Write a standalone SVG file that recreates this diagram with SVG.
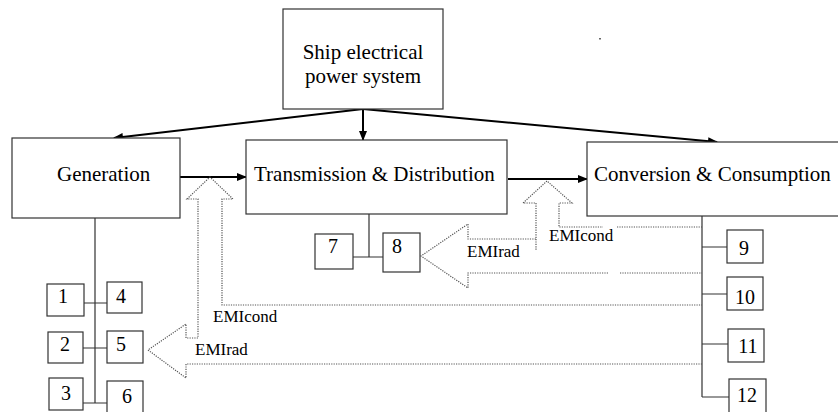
<svg xmlns="http://www.w3.org/2000/svg" width="838" height="412" viewBox="0 0 838 412">
<defs>
<marker id="ah" markerWidth="10" markerHeight="8" refX="9" refY="4" orient="auto" markerUnits="userSpaceOnUse">
<path d="M0,0 L10,4 L0,8 Z" fill="#000"/>
</marker>
<style>
.box{fill:#fff;stroke:#333;stroke-width:1.2}
text{font-family:'Liberation Serif','DejaVu Serif','Times New Roman',serif;fill:#000}
.lbl{font-size:21px}
.num{font-size:20px;text-anchor:middle}
.emi{font-size:17px}
.arr{stroke:#000;stroke-width:2;fill:none;marker-end:url(#ah)}
.bus{stroke:#333;stroke-width:1.2;fill:none}
.dot{stroke:#555;stroke-width:1.2;fill:none;stroke-dasharray:1.2 1.2}
</style>
</defs>
<rect width="838" height="412" fill="#fff"/>
<rect x="599" y="38" width="2" height="1.5" fill="#666"/>

<g id="connectors">
<line class="arr" x1="363" y1="109" x2="114" y2="138"/>
<line class="arr" x1="363" y1="109" x2="363" y2="140"/>
<line class="arr" x1="363" y1="109" x2="717" y2="142"/>
<line class="arr" x1="177" y1="177" x2="246" y2="177"/>
<line class="arr" x1="508" y1="179" x2="587" y2="179"/>
<path class="bus" d="M95,218 V403 M83,303 H107 M83,348 H107 M83,403 H107"/>
<path class="bus" d="M369,214 V257 M353,257 H383"/>
<path class="bus" d="M702,216 V397 M702,247 H727 M702,294 H727 M702,344 H728 M702,397 H729"/>
<path class="dot" d="M702,364 L186,364 L186,378 L148,350 L186,324 L186,338 L198,338 L198,199 L187,199 L210,177 L233,199 L222,199 L222,305 L702,305"/>
<path class="dot" d="M608,273 L468,273 L468,288 L421,256 L468,224 L468,239 L536,239 L536,203 L523,203 L547,181 L572,203 L559,203 L559,227 L603,227"/>
<path class="dot" d="M536,239 V250 M617,227 H702 M620,273 H702"/>
<text class="emi" x="213" y="322" font-family="Liberation Serif, DejaVu Serif, serif">EMIcond</text>
<text class="emi" x="195" y="355" font-family="Liberation Serif, DejaVu Serif, serif">EMIrad</text>
<text class="emi" x="549" y="241" font-family="Liberation Serif, DejaVu Serif, serif">EMIcond</text>
<text class="emi" x="467" y="257" font-family="Liberation Serif, DejaVu Serif, serif">EMIrad</text>
</g>

<g id="top"><rect class="box" x="283" y="9" width="160" height="100"/>
<text class="lbl" x="363" y="59" text-anchor="middle" font-family="Liberation Serif, DejaVu Serif, serif">Ship electrical</text>
<text class="lbl" x="363" y="83" text-anchor="middle" font-family="Liberation Serif, DejaVu Serif, serif">power system</text></g>
<g id="generation"><rect class="box" x="12" y="138" width="168" height="80"/>
<text class="lbl" x="57" y="181" font-family="Liberation Serif, DejaVu Serif, serif">Generation</text></g>
<g id="transmission"><rect class="box" x="246" y="140" width="261" height="74"/>
<text class="lbl" x="254" y="181" font-family="Liberation Serif, DejaVu Serif, serif">Transmission &amp; Distribution</text></g>
<g id="conversion"><rect class="box" x="587" y="142" width="260" height="74"/>
<text class="lbl" x="594" y="181" font-family="Liberation Serif, DejaVu Serif, serif">Conversion &amp; Consumption</text></g>

<g id="b1"><rect class="box" x="47" y="284" width="37" height="32"/><text class="num" x="63" y="303" font-family="Liberation Serif, DejaVu Serif, serif">1</text></g>
<g id="b2"><rect class="box" x="48" y="332" width="35" height="31"/><text class="num" x="65" y="351" font-family="Liberation Serif, DejaVu Serif, serif">2</text></g>
<g id="b3"><rect class="box" x="49" y="378" width="34" height="32"/><text class="num" x="66" y="400" font-family="Liberation Serif, DejaVu Serif, serif">3</text></g>
<g id="b4"><rect class="box" x="107" y="282" width="35" height="31"/><text class="num" x="121" y="303" font-family="Liberation Serif, DejaVu Serif, serif">4</text></g>
<g id="b5"><rect class="box" x="107" y="331" width="36" height="32"/><text class="num" x="121" y="351" font-family="Liberation Serif, DejaVu Serif, serif">5</text></g>
<g id="b6"><rect class="box" x="107" y="381" width="36" height="35"/><text class="num" x="127" y="403" font-family="Liberation Serif, DejaVu Serif, serif">6</text></g>
<g id="b7"><rect class="box" x="315" y="234" width="38" height="35"/><text class="num" x="333" y="253" font-family="Liberation Serif, DejaVu Serif, serif">7</text></g>
<g id="b8"><rect class="box" x="383" y="233" width="37" height="39"/><text class="num" x="397" y="253" font-family="Liberation Serif, DejaVu Serif, serif">8</text></g>
<g id="b9"><rect class="box" x="727" y="230" width="36" height="33"/><text class="num" x="744" y="255" font-family="Liberation Serif, DejaVu Serif, serif">9</text></g>
<g id="b10"><rect class="box" x="727" y="277" width="36" height="33"/><text class="num" x="745" y="304" font-family="Liberation Serif, DejaVu Serif, serif">10</text></g>
<g id="b11"><rect class="box" x="728" y="329" width="36" height="33"/><text class="num" x="748" y="353" font-family="Liberation Serif, DejaVu Serif, serif">11</text></g>
<g id="b12"><rect class="box" x="729" y="379" width="37" height="37"/><text class="num" x="747" y="402" font-family="Liberation Serif, DejaVu Serif, serif">12</text></g>
</svg>
